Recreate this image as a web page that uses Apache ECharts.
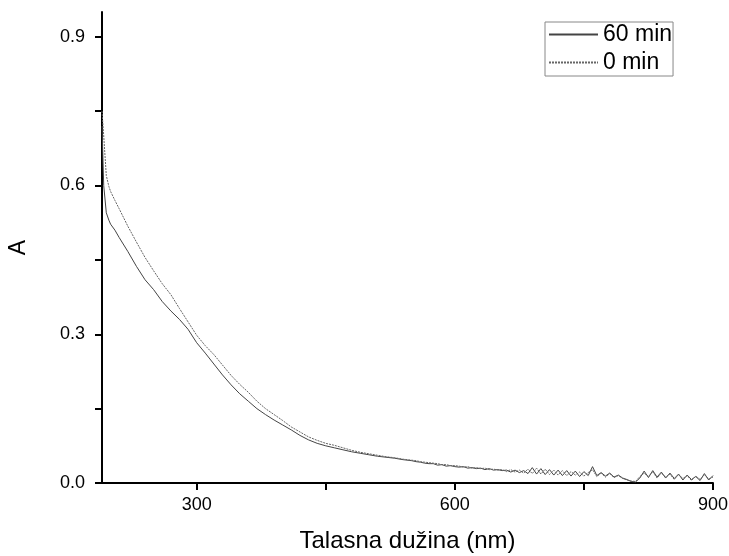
<!DOCTYPE html>
<html>
<head>
<meta charset="utf-8">
<style>
  html, body { margin: 0; padding: 0; background: #fff; }
  #chart { width: 729px; height: 556px; }
</style>
<script src="https://cdn.jsdelivr.net/npm/echarts@6/dist/echarts.min.js"></script>
</head>
<body>
<div id="chart"></div>
<script>
// wavelength (nm)
const wavelength = [
  190, 192, 195, 198, 200, 205,
  210, 220, 230, 240, 250, 260, 270, 280, 290, 300, 310, 320, 330, 340, 350,
  360, 370, 380, 390, 400, 410, 420, 430, 440, 450, 460, 470, 480, 490, 500,
  510, 520, 530, 540, 550,
  555, 560, 565, 570, 575, 580, 585, 590, 595, 600, 605, 610, 615, 620, 625,
  630, 635, 640, 645, 650, 655, 660, 665, 670, 675, 680, 685, 690, 695, 700,
  705, 710, 715, 720, 725, 730, 735, 740, 745, 750, 755, 760, 765, 770, 775,
  780, 785, 790, 795, 800, 805, 810, 815, 820, 825, 830, 835, 840, 845, 850,
  855, 860, 865, 870, 875, 880, 885, 890, 895, 900
]

// absorbance after 60 min
const abs60 = [
  0.72, 0.60, 0.545, 0.53, 0.522, 0.51,
  0.495, 0.467, 0.437, 0.41, 0.39, 0.366, 0.347, 0.33, 0.31, 0.283, 0.262, 0.24, 0.218, 0.198, 0.18,
  0.165, 0.15, 0.138, 0.127, 0.117, 0.107, 0.096, 0.087, 0.08, 0.075, 0.071, 0.067, 0.063, 0.06, 0.057,
  0.054, 0.052, 0.05, 0.047, 0.045,
  0.043, 0.042, 0.040, 0.039, 0.039, 0.036, 0.037, 0.034, 0.035, 0.033, 0.032, 0.033, 0.030, 0.031, 0.029,
  0.030, 0.027, 0.029, 0.026, 0.027, 0.025, 0.026, 0.022, 0.026, 0.021, 0.025, 0.019, 0.031, 0.018, 0.029,
  0.017, 0.027, 0.016, 0.026, 0.015, 0.025, 0.014, 0.024, 0.013, 0.023, 0.015, 0.033, 0.015, 0.021, 0.014,
  0.020, 0.012, 0.016, 0.010, 0.007, 0.003, 0.002, 0.010, 0.024, 0.011, 0.025, 0.012, 0.022, 0.010, 0.020,
  0.009, 0.018, 0.006, 0.016, 0.007, 0.013, 0.005, 0.019, 0.006, 0.015
]

// absorbance at 0 min
const abs0 = [
  0.75, 0.70, 0.62, 0.598, 0.588, 0.57,
  0.553, 0.518, 0.486, 0.455, 0.428, 0.402, 0.38, 0.352, 0.325, 0.298, 0.277, 0.259, 0.238, 0.217, 0.199,
  0.183, 0.165, 0.15, 0.138, 0.126, 0.113, 0.103, 0.093, 0.086, 0.08, 0.076, 0.071, 0.066, 0.062, 0.059,
  0.056, 0.053, 0.051, 0.048, 0.046,
  0.045, 0.043, 0.042, 0.041, 0.040, 0.039, 0.037, 0.037, 0.035, 0.035, 0.034, 0.032, 0.033, 0.030, 0.031,
  0.029, 0.030, 0.027, 0.028, 0.026, 0.027, 0.023, 0.027, 0.022, 0.026, 0.020, 0.028, 0.019, 0.030, 0.018,
  0.028, 0.017, 0.026, 0.016, 0.025, 0.015, 0.023, 0.016, 0.022, 0.014, 0.021, 0.027, 0.013, 0.020, 0.012,
  0.019, 0.011, 0.015, 0.009, 0.006, 0.004, 0.003, 0.013, 0.020, 0.013, 0.023, 0.010, 0.020, 0.012, 0.018,
  0.007, 0.017, 0.009, 0.015, 0.005, 0.014, 0.007, 0.017, 0.008, 0.012
]

const xTicks = [300, 450, 600, 750, 900]
const xLabels = [300, 600, 900]
const yTicks = [0, 0.15, 0.3, 0.45, 0.6, 0.75, 0.9]
const yLabels = [0, 0.3, 0.6, 0.9]

const font = 'Liberation Sans, Arial, sans-serif'

const pairs = (ys) => wavelength.map((x, i) => [x, ys[i]])

const chart = echarts.init(document.getElementById('chart'))

chart.setOption({
  animation: false,
  backgroundColor: '#fff',
  grid: { left: 102, right: 16, top: 12, bottom: 73, outerBoundsMode: 'none' },
  legend: {
    orient: 'vertical',
    left: 545,
    top: 22,
    padding: [1, 1, 2, 3],
    itemGap: 5,
    itemWidth: 49,
    itemHeight: 14,
    itemStyle: { opacity: 0 },
    borderColor: '#888',
    borderWidth: 1,
    textStyle: { fontFamily: font, fontSize: 23, color: '#000' },
    data: ['60 min', '0 min'],
  },
  xAxis: {
    type: 'value',
    min: 190,
    max: 900,
    name: 'Talasna dužina (nm)',
    nameLocation: 'middle',
    nameGap: 46,
    nameTextStyle: { fontFamily: font, fontSize: 24, color: '#000' },
    axisLine: { lineStyle: { color: '#000', width: 2 } },
    axisTick: { customValues: xTicks, length: 7, lineStyle: { color: '#000', width: 2 } },
    axisLabel: { customValues: xLabels, margin: 13, fontFamily: font, fontSize: 18, color: '#000' },
    splitLine: { show: false },
  },
  yAxis: {
    type: 'value',
    min: 0,
    max: 0.95,
    name: 'A',
    nameLocation: 'middle',
    nameGap: 72,
    nameTextStyle: { fontFamily: font, fontSize: 23, color: '#000' },
    axisLine: { show: true, lineStyle: { color: '#000', width: 2 } },
    axisTick: { show: true, customValues: yTicks, length: 7, lineStyle: { color: '#000', width: 2 } },
    axisLabel: {
      customValues: yLabels,
      margin: 17,
      fontFamily: font,
      fontSize: 18,
      color: '#000',
      formatter: (v) => v.toFixed(1),
    },
    splitLine: { show: false },
  },
  series: [
    {
      name: '60 min',
      type: 'line',
      symbol: 'none',
      data: pairs(abs60),
      lineStyle: { color: '#444', width: 1 },
      itemStyle: { color: '#444' },
    },
    {
      name: '0 min',
      type: 'line',
      symbol: 'none',
      data: pairs(abs0),
      lineStyle: { color: '#666', width: 1, type: [2, 1] },
      itemStyle: { color: '#666' },
    },
  ],
})
</script>
</body>
</html>
